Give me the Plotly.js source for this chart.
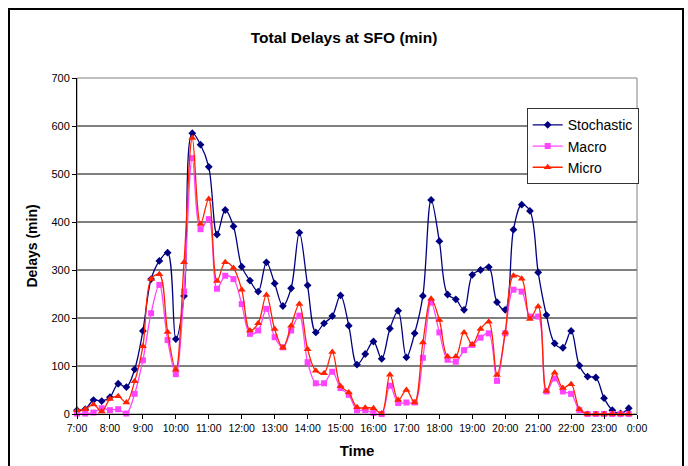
<!DOCTYPE html>
<html>
<head>
<meta charset="utf-8">
<script src="https://cdn.plot.ly/plotly-3.0.1.min.js"></script>
<style>
  html, body { margin: 0; padding: 0; background: #fff; overflow: hidden; }
  #frame { position: absolute; left: 8px; top: 8px; width: 676px; height: 470px; border: 2px solid #000; box-sizing: border-box; pointer-events: none; z-index: 5; }
  #chart { position: absolute; left: 0; top: 0; width: 688px; height: 466px; }
</style>
</head>
<body>
<div id="chart"></div>
<div id="frame"></div>
<script>
const times = ["7:00","7:15","7:30","7:45","8:00","8:15","8:30","8:45",
  "9:00","9:15","9:30","9:45","10:00","10:15","10:30","10:45",
  "11:00","11:15","11:30","11:45","12:00","12:15","12:30","12:45",
  "13:00","13:15","13:30","13:45","14:00","14:15","14:30","14:45",
  "15:00","15:15","15:30","15:45","16:00","16:15","16:30","16:45",
  "17:00","17:15","17:30","17:45","18:00","18:15","18:30","18:45",
  "19:00","19:15","19:30","19:45","20:00","20:15","20:30","20:45",
  "21:00","21:15","21:30","21:45","22:00","22:15","22:30","22:45",
  "23:00","23:15","23:30","23:45"];

const stochastic = [8,10,29,27,35,63,56,93,
  173,281,319,336,156,246,585,561,
  515,374,425,391,307,278,255,316,
  272,225,262,378,268,170,189,204,
  247,184,103,125,151,115,178,215,
  118,168,246,446,360,249,239,217,
  290,300,306,233,217,384,436,423,
  295,206,147,138,173,101,78,76,
  33,8,1,12];

const macro = [1,1,3,12,8,10,1,42,
  112,210,269,154,83,255,533,385,
  406,261,288,281,229,167,174,219,
  160,139,174,205,108,64,64,88,
  54,40,8,8,2,0,59,23,
  24,24,117,232,170,113,109,133,
  144,159,168,69,168,259,255,203,
  203,47,74,47,42,8,0,0,
  0,0,0,0];

const micro = [8,10,20,5,31,37,24,68,
  141,281,291,171,92,316,575,396,
  448,277,316,304,259,174,189,248,
  177,138,184,229,135,90,85,129,
  58,45,14,13,12,1,82,29,
  50,24,149,240,196,120,120,170,
  145,177,192,81,170,288,282,198,
  224,48,86,54,62,10,0,0,
  0,0,0,0];

const tickLabels = ["7:00","8:00","9:00","10:00","11:00","12:00","13:00","14:00",
  "15:00","16:00","17:00","18:00","19:00","20:00","21:00","22:00","23:00","0:00"];

function toHours(t) { const p = t.split(":"); return +p[0] + (+p[1]) / 60; }
const xs = times.map(toHours);
const tickVals = tickLabels.map((t, i) => { let h = toHours(t); if (h < 7) h += 24; return h; });

const FONT = "Liberation Sans, Arial, sans-serif";

const traces = [
  { name: "Stochastic", x: xs, y: stochastic, type: "scatter", mode: "lines+markers",
    line: { color: "#000080", width: 1.3, shape: "spline", smoothing: 1 },
    marker: { symbol: "diamond", size: 6, color: "#000080" }, cliponaxis: false },
  { name: "Macro", x: xs, y: macro, type: "scatter", mode: "lines+markers",
    line: { color: "#ff44ff", width: 1.3, shape: "spline", smoothing: 1 },
    marker: { symbol: "square", size: 6, color: "#ff44ff" }, cliponaxis: false },
  { name: "Micro", x: xs, y: micro, type: "scatter", mode: "lines+markers",
    line: { color: "#ff2200", width: 1.3, shape: "spline", smoothing: 1 },
    marker: { symbol: "triangle-up", size: 7, color: "#ff2200" }, cliponaxis: false }
];

const layout = {
  width: 688, height: 466,
  margin: { l: 77, r: 50.5, t: 78, b: 52, pad: 0 },
  paper_bgcolor: "#fff", plot_bgcolor: "#fff",
  font: { family: FONT, color: "#000", size: 11 },
  showlegend: true,
  title: { text: "<b>Total Delays at SFO (min)</b>", font: { family: FONT, size: 15.5, color: "#000" },
    x: 0.5, xanchor: "center", y: 1 - 38 / 466, yanchor: "middle", yref: "container" },
  xaxis: {
    range: [7, 24], tickvals: tickVals, ticktext: tickLabels,
    showgrid: false, zeroline: false,
    showline: true, linecolor: "#000", linewidth: 1,
    ticks: "outside", ticklen: 4, tickcolor: "#000", tickwidth: 1,
    tickfont: { family: FONT, size: 10.5, color: "#000" },
    title: { text: "<b>Time</b>", font: { family: FONT, size: 15, color: "#000" }, standoff: 12 }
  },
  yaxis: {
    range: [0, 700], dtick: 100, tick0: 0,
    showgrid: true, gridcolor: "#808080", gridwidth: 1.2,
    zeroline: false,
    showline: true, linecolor: "#000", linewidth: 1,
    ticks: "outside", ticklen: 4, tickcolor: "#000", tickwidth: 1,
    tickfont: { family: FONT, size: 11, color: "#000" },
    title: { text: "<b>Delays (min)</b>", font: { family: FONT, size: 14, color: "#000" }, standoff: 10 }
  },
  shapes: [
    { type: "rect", xref: "paper", yref: "paper", x0: 0, x1: 1, y0: 0, y1: 1,
      line: { color: "#808080", width: 1 }, layer: "below" }
  ],
  legend: {
    x: 0.803, y: 0.91, xanchor: "left", yanchor: "top",
    bgcolor: "#fff", bordercolor: "#333", borderwidth: 1,
    font: { family: FONT, size: 14, color: "#000" },
    itemwidth: 30, tracegroupgap: 0
  }
};

Plotly.newPlot("chart", traces, layout, { staticPlot: true, displayModeBar: false });
</script>
</body>
</html>
